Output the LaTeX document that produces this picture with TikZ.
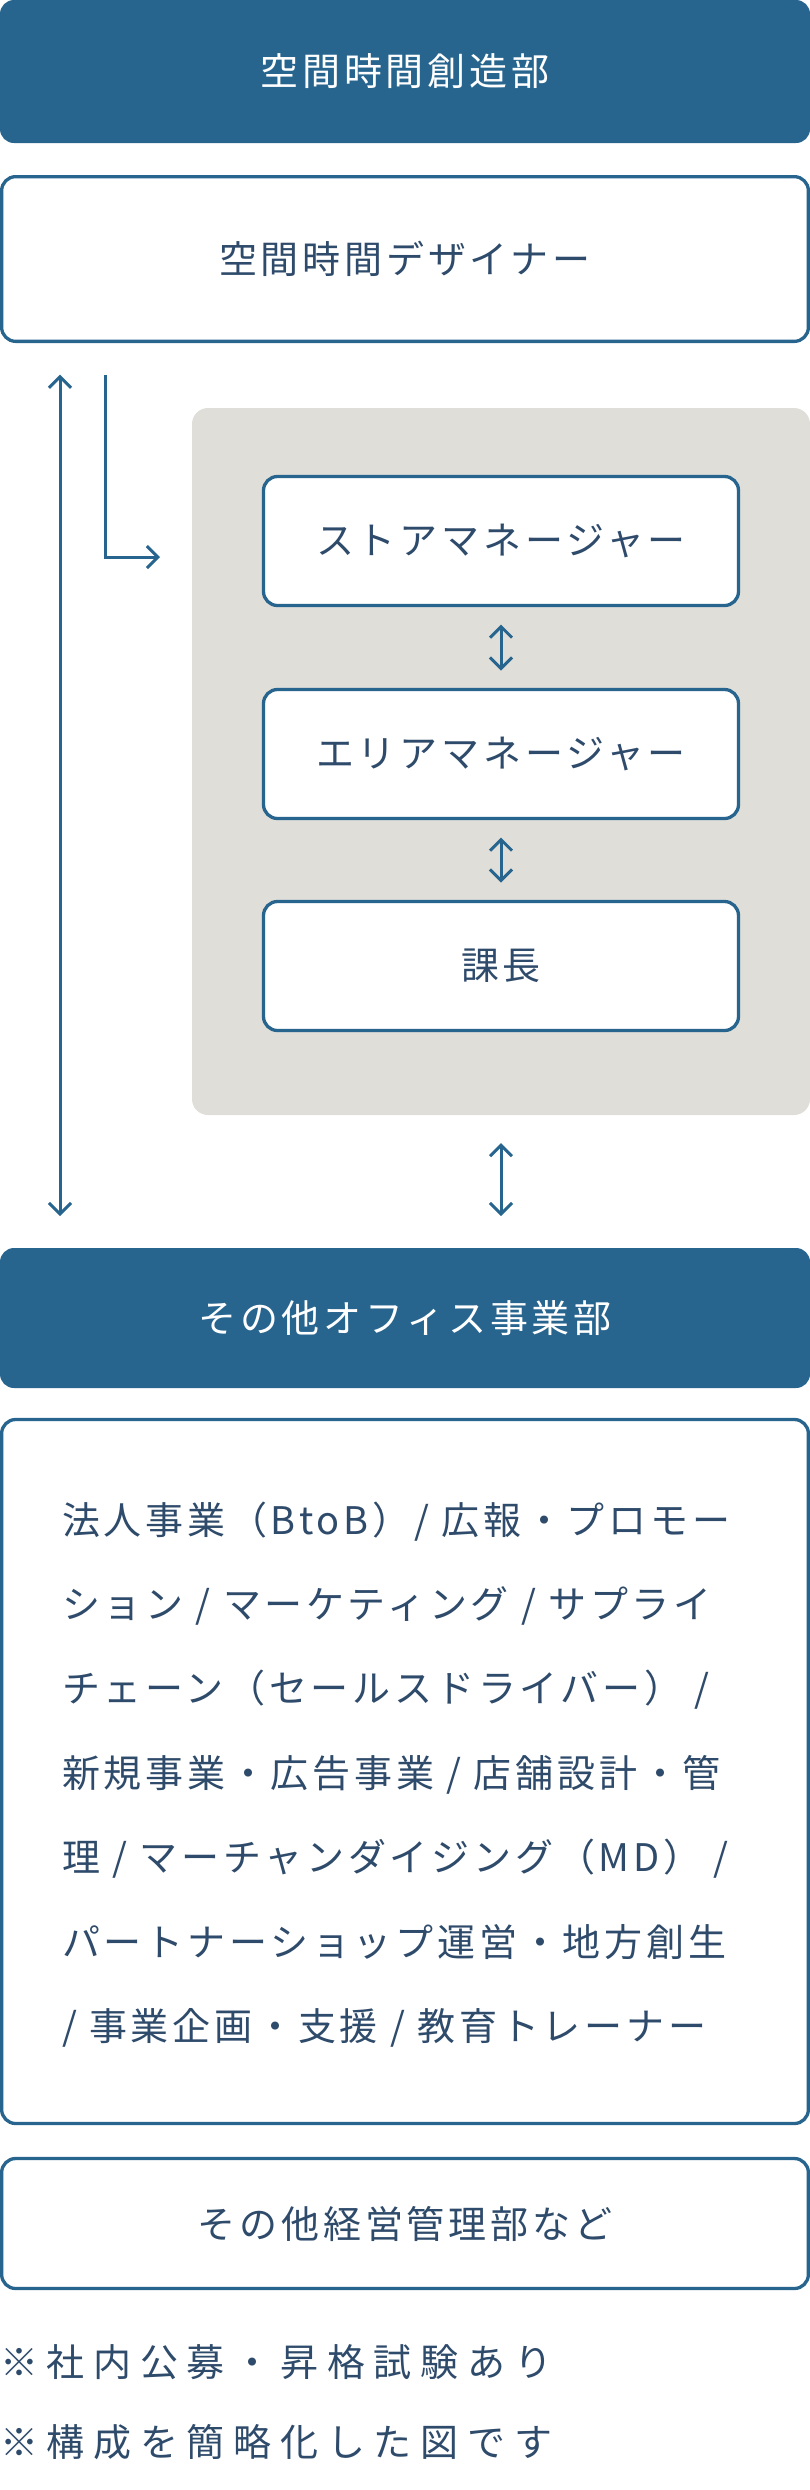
\documentclass[tikz,border=0pt]{standalone}
\usepackage{fontspec}
\newfontfamily\jp{Noto Sans CJK JP}[LetterSpace=10]
\newfontfamily\jpnote{Noto Sans CJK JP}[LetterSpace=23]
\usetikzlibrary{arrows.meta,calc}
\definecolor{navy}{HTML}{27658F}
\definecolor{panelgrey}{HTML}{DFDED9}
\definecolor{inktext}{HTML}{2F4B6B}
\begin{document}
\begin{tikzpicture}[x=1pt,y=-1pt,
  every node/.style={inner sep=0pt, outer sep=0pt},
  darkbox/.style={fill=navy, rounded corners=14pt, text=white, font={\jp\fontsize{38}{46}\selectfont}},
  linebox/.style={draw=navy, line width=3.3pt, fill=white, rounded corners=14pt, text=inktext, font={\jp\fontsize{38}{46}\selectfont}},
  panelbox/.style={fill=panelgrey, rounded corners=16pt},
  bodytext/.style={text=inktext, font={\jp\fontsize{38}{46}\selectfont}, anchor=base west},
  notetext/.style={text=inktext, font={\jpnote\fontsize{38}{46}\selectfont}, anchor=base west},
  conn/.style={draw=navy, line width=3pt, {Straight Barb[length=11pt,width=22pt]}-{Straight Barb[length=11pt,width=22pt]}},
  conna/.style={draw=navy, line width=3pt, -{Straight Barb[length=11pt,width=22pt]}},
]
\useasboundingbox (0,0) rectangle (810,2490);

\node[darkbox, minimum width=810pt, minimum height=143pt] (hq) at (405,71.5) {空間時間創造部};
\node[linebox, minimum width=806.7pt, minimum height=164.7pt] (designer) at (405,259) {空間時間デザイナー};

\node[panelbox, minimum width=618pt, minimum height=707pt] (panel) at (501,761.5) {};
\node[linebox, minimum width=475pt, minimum height=129pt] (store) at (501,541) {ストアマネージャー};
\node[linebox, minimum width=475pt, minimum height=129pt] (area) at (501,754) {エリアマネージャー};
\node[linebox, minimum width=475pt, minimum height=129pt] (chief) at (501,966) {課長};

\node[darkbox, minimum width=810pt, minimum height=140pt] (office) at (405,1318) {その他オフィス事業部};
\node[linebox, minimum width=806.7pt, minimum height=704pt] (list) at (405,1771.5) {};
\node[linebox, minimum width=806.7pt, minimum height=130pt] (mgmt) at (405,2223.5) {その他経営管理部など};

\node[bodytext] (t1) at (62,1534) {法人事業（BtoB）/ 広報・プロモー};
\node[bodytext] (t2) at (62,1618.4) {ション / マーケティング / サプライ};
\node[bodytext] (t3) at (62,1702.8) {チェーン（セールスドライバー） /};
\node[bodytext] (t4) at (62,1787.2) {新規事業・広告事業 / 店舗設計・管};
\node[bodytext] (t5) at (62,1871.6) {理 / マーチャンダイジング（MD） /};
\node[bodytext] (t6) at (62,1956) {パートナーショップ運営・地方創生};
\node[bodytext] (t7) at (62,2040.4) {/ 事業企画・支援 / 教育トレーナー};

\node[notetext] (n1) at (0,2376) {※社内公募・昇格試験あり};
\node[notetext] (n2) at (0,2456) {※構成を簡略化した図です};

% connectors
\draw[conn] ([shift={(58.35pt,-33.35pt)}]designer.south west) -- ([shift={(60pt,32pt)}]office.north west);
\coordinate (lend) at (160,557);
\draw[conna] ([shift={(103.35pt,-33.35pt)}]designer.south west) |- (lend);
\draw[conn] ([yshift=-19pt]store.south) -- ([yshift=19pt]area.north);
\draw[conn] ([yshift=-19pt]area.south) -- ([yshift=19pt]chief.north);
\draw[conn] ([yshift=-28pt]panel.south) -- ([yshift=32pt]office.north -| panel.south);
\end{tikzpicture}
\end{document}
